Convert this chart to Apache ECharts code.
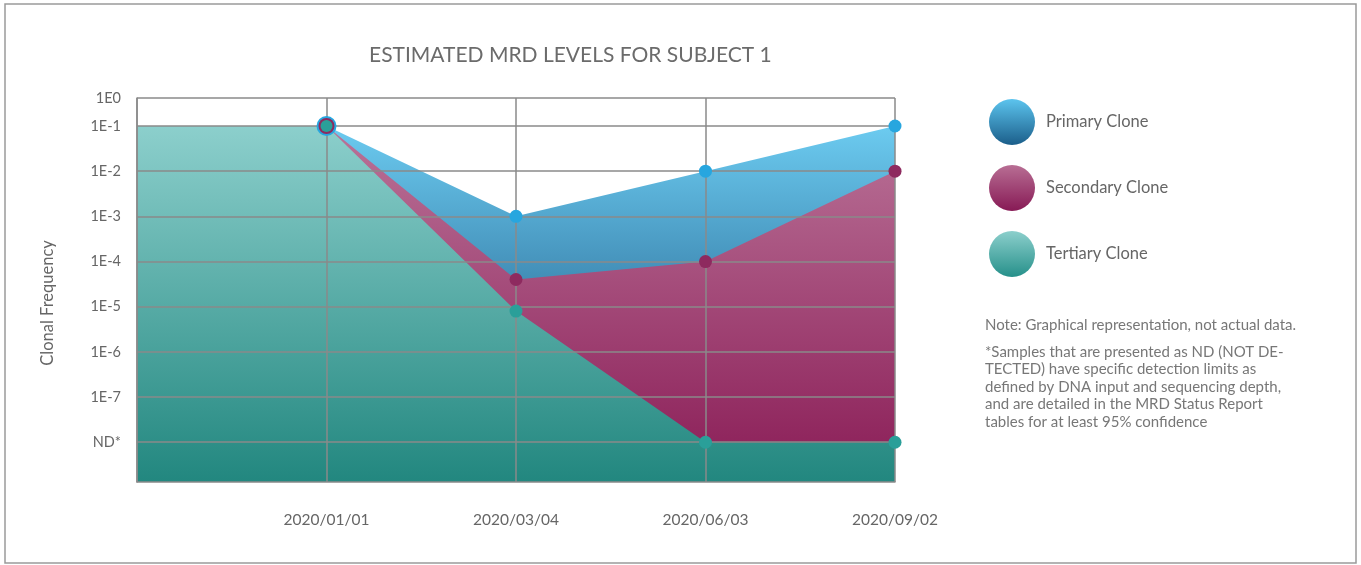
<!DOCTYPE html>
<html>
<head>
<meta charset="utf-8">
<script src="https://cdn.jsdelivr.net/npm/echarts@6/dist/echarts.min.js"></script>
<style>
  html, body { margin: 0; padding: 0; background: #fff; }
  #chart { width: 1361px; height: 565px; }
</style>
</head>
<body>
<div id="chart"></div>
<script>
// categories (first slot is an unlabeled lead-in)
const dates = ['', '2020/01/01', '2020/03/04', '2020/06/03', '2020/09/02']
// clonal frequency per sample, 'ND' = not detected
const primary = [null, 1e-1, 1e-3, 1e-2, 1e-1]
const secondary = [null, 1e-1, 4e-5, 1e-4, 1e-2]
const tertiary = [1e-1, 1e-1, 8e-6, 'ND', 'ND']
// tick labels on the log axis
const yTickLabels = ['ND*', '1E-7', '1E-6', '1E-5', '1E-4', '1E-3', '1E-2', '1E-1', '1E0']
const yTickValues = [-8, -7, -6, -5, -4, -3, -2, -1, -0.38]
const seriesNames = ['Primary Clone', 'Secondary Clone', 'Tertiary Clone']
const noteLines = [
  '*Samples that are presented as ND (NOT DE-',
  'TECTED) have specific detection limits as',
  'defined by DNA input and sequencing depth,',
  'and are detailed in the MRD Status Report',
  'tables for at least 95% confidence',
]

const yMin = -8.88
const yMax = -0.38
const ND_LEVEL = -8

function toLog(v) {
  if (v === null) return null
  if (v === 'ND') return ND_LEVEL
  return Math.log10(v)
}

const myChart = echarts.init(document.getElementById('chart'))
const grad = (top, bottom) => new echarts.graphic.LinearGradient(0, 0, 0, 1, [
  { offset: 0, color: top },
  { offset: 1, color: bottom },
])

const areaColors = [
  ['#6ccbf0', '#0a3d6c'],
  ['#ba7398', '#8a1c56'],
  ['#8ccfcc', '#22877f'],
]
const legendColors = [
  ['#5cc4ee', '#1b5e8a'],
  ['#b86e94', '#871a55'],
  ['#8ccfcc', '#26908a'],
]
const markColors = ['#27a6df', '#8e2a5f', '#2a9f99']
const firstSizes = [20, 16, 12]
const allData = [primary, secondary, tertiary]

const series = []
// areas
allData.forEach((arr, i) => {
  series.push({
    name: seriesNames[i],
    type: 'line',
    z: 2,
    data: arr.map(toLog),
    showSymbol: false,
    symbol: 'none',
    lineStyle: { width: 0 },
    areaStyle: { origin: 'start', color: grad(areaColors[i][0], areaColors[i][1]), opacity: 1 },
    itemStyle: { color: markColors[i] },
    silent: true,
  })
})
// markers on top of grid lines
allData.forEach((arr, i) => {
  series.push({
    name: seriesNames[i],
    type: 'line',
    z: 5,
    data: arr.map((v, j) => {
      if (v === null || j === 0) return null
      return j === 1 ? { value: toLog(v), symbolSize: firstSizes[i] } : toLog(v)
    }),
    symbol: 'circle',
    symbolSize: 13,
    showSymbol: true,
    lineStyle: { width: 0 },
    itemStyle: { color: markColors[i] },
    silent: true,
  })
})

const option = {
  animation: false,
  title: {
    text: 'ESTIMATED MRD LEVELS FOR SUBJECT 1',
    left: 364,
    top: 40,
    textStyle: { fontFamily: 'Lato', fontSize: 21, fontWeight: 'normal', color: '#6b6b6b' },
  },
  grid: { left: 137, right: 466, top: 98, bottom: 83 },
  legend: {
    orient: 'vertical',
    left: 984,
    top: 94,
    itemWidth: 46,
    itemHeight: 46,
    itemGap: 20,
    icon: 'circle',
    textStyle: { fontFamily: 'Lato', fontSize: 16.5, color: '#666', padding: [0, 0, 0, 6] },
    data: seriesNames.map((n, i) => ({
      name: n,
      itemStyle: { color: grad(legendColors[i][0], legendColors[i][1]) },
    })),
  },
  xAxis: {
    type: 'category',
    boundaryGap: false,
    data: dates,
    z: 3,
    axisLine: { lineStyle: { color: '#8a8a8a', width: 1.5 } },
    axisTick: { show: false },
    axisLabel: { margin: 30, fontFamily: 'Lato', fontSize: 15.5, color: '#666' },
    splitLine: { show: true, lineStyle: { color: '#8a8a8a', width: 1.5 } },
  },
  yAxis: {
    type: 'value',
    min: yMin,
    max: yMax,
    z: 3,
    axisLine: { show: true, lineStyle: { color: '#8a8a8a', width: 1.5 } },
    axisTick: { show: false, customValues: yTickValues },
    axisLabel: {
      margin: 16,
      fontFamily: 'Lato',
      fontSize: 14.5,
      color: '#666',
      customValues: yTickValues,
      formatter: (v) => {
        const k = yTickValues.findIndex((t) => Math.abs(t - v) < 1e-6)
        return k >= 0 ? yTickLabels[k] : ''
      },
    },
    splitLine: { show: true, lineStyle: { color: '#8a8a8a', width: 1.5 } },
  },
  graphic: [
    {
      type: 'rect',
      shape: { x: 5, y: 4, width: 1351, height: 559 },
      style: { fill: 'none', stroke: '#9a9a9a', lineWidth: 1.5 },
      z: -1,
    },
    {
      type: 'text',
      x: 48,
      y: 303,
      rotation: Math.PI / 2,
      style: {
        text: 'Clonal Frequency',
        fill: '#666',
        font: '16.5px Lato',
        align: 'center',
        verticalAlign: 'middle',
      },
    },
    {
      type: 'text',
      x: 985,
      y: 325,
      style: {
        text: 'Note: Graphical representation, not actual data.',
        fill: '#777',
        font: '15px Lato',
        verticalAlign: 'middle',
      },
    },
    {
      type: 'text',
      x: 985,
      y: 343,
      style: {
        text: noteLines.join('\n'),
        fill: '#777',
        font: '15px Lato',
        lineHeight: 17.5,
      },
    },
  ],
  series: series,
}
myChart.setOption(option)
</script>
</body>
</html>
